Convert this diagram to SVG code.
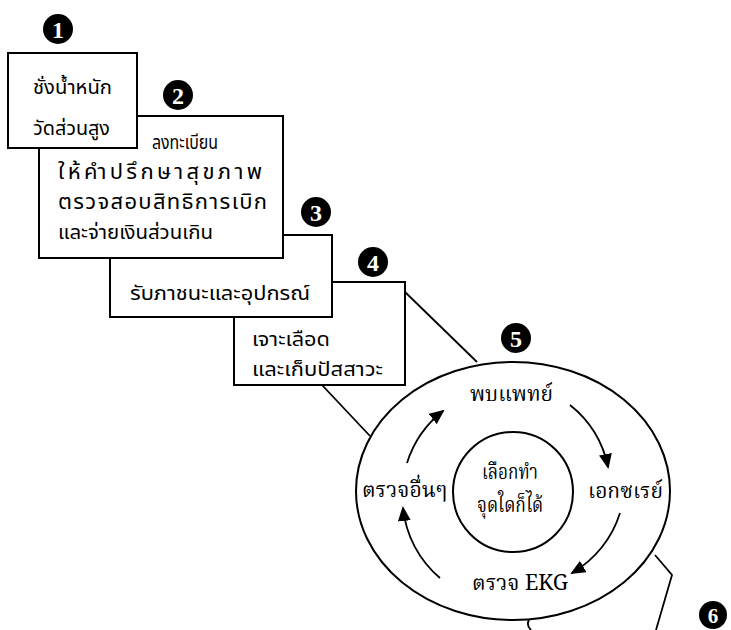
<svg xmlns="http://www.w3.org/2000/svg" width="731" height="630" viewBox="0 0 731 630">
<style>
.box{fill:#fff;stroke:#000;stroke-width:2}
.ring{fill:#fff;stroke:#000;stroke-width:2}
.ln{fill:none;stroke:#000;stroke-width:1.8}
.badge{fill:#000}
.num{fill:#fff;font-family:"Liberation Serif",serif;font-weight:bold;font-size:24px;text-anchor:middle}
.t{font-family:"Noto Sans Thai","Noto Sans","DejaVu Sans",sans-serif;font-size:19px;fill:#000}
.w{font-family:"Noto Sans Thai","Noto Sans","DejaVu Sans",sans-serif;font-size:22px;fill:#000}
.s{font-family:"Noto Serif Thai","Liberation Serif",serif;font-size:21px;fill:#000}
</style>
<defs>
<marker id="ah" markerUnits="userSpaceOnUse" markerWidth="15" markerHeight="13" refX="13" refY="6.5" orient="auto">
<path d="M0,0 L15,6.5 L0,13 z" fill="#000"/>
</marker>
</defs>
<rect width="731" height="630" fill="#fff"/>

<g id="connectors">
<path class="ln" d="M405 292 L477 362"/>
<path class="ln" d="M322 385 L370 436"/>
<path class="ln" d="M655 555 L672 575 L656 630"/>
<path class="ln" d="M529 620 Q526 625 531 630"/>
</g>

<g id="node4">
<rect class="box" x="234" y="282" width="171" height="103"/>
<text class="t" x="252" y="346" textLength="78" lengthAdjust="spacingAndGlyphs">เจาะเลือด</text>
<text class="t" x="252" y="376" textLength="131" lengthAdjust="spacingAndGlyphs">และเก็บปัสสาวะ</text>
</g>
<g id="node3">
<rect class="box" x="110" y="235" width="222" height="82"/>
<text class="t" x="130" y="300" textLength="180" lengthAdjust="spacingAndGlyphs">รับภาชนะและอุปกรณ์</text>
</g>
<g id="node2">
<rect class="box" x="39" y="116" width="244" height="142"/>
<text class="t" x="152" y="149" textLength="66" lengthAdjust="spacingAndGlyphs" style="font-size:20px">ลงทะเบียน</text>
<text class="w" x="58" y="179" textLength="204" lengthAdjust="spacing">ให้คำปรึกษาสุขภาพ</text>
<text class="w" x="58" y="209" textLength="209" lengthAdjust="spacing">ตรวจสอบสิทธิการเบิก</text>
<text class="t" x="58" y="239" textLength="155" lengthAdjust="spacingAndGlyphs">และจ่ายเงินส่วนเกิน</text>
</g>
<g id="node1">
<rect class="box" x="8" y="53" width="129" height="95"/>
<text class="t" x="33" y="94" textLength="79" lengthAdjust="spacingAndGlyphs">ชั่งน้ำหนัก</text>
<text class="t" x="33" y="135" textLength="77" lengthAdjust="spacingAndGlyphs">วัดส่วนสูง</text>
</g>

<g id="node5">
<ellipse class="ring" cx="513" cy="491" rx="157" ry="129"/>
<circle class="ring" cx="513" cy="492" r="60"/>
<text class="s" x="470" y="401" textLength="83" lengthAdjust="spacingAndGlyphs">พบแพทย์</text>
<text class="s" x="482" y="479" textLength="56" lengthAdjust="spacingAndGlyphs">เลือกทำ</text>
<text class="s" x="477" y="512" textLength="66" lengthAdjust="spacingAndGlyphs">จุดใดก็ได้</text>
<text class="s" x="362" y="497" textLength="85" lengthAdjust="spacingAndGlyphs">ตรวจอื่นๆ</text>
<text class="s" x="588" y="498" textLength="75" lengthAdjust="spacingAndGlyphs">เอกซเรย์</text>
<text class="s" x="472" y="590" textLength="96" lengthAdjust="spacingAndGlyphs">ตรวจ EKG</text>
<path class="ln" d="M407 463 A106 106 0 0 1 443 411" marker-end="url(#ah)"/>
<path class="ln" d="M570 405 A106 106 0 0 1 608 467" marker-end="url(#ah)"/>
<path class="ln" d="M620 513 A106 106 0 0 1 572 573" marker-end="url(#ah)"/>
<path class="ln" d="M440 578 A106 106 0 0 1 403 508" marker-end="url(#ah)"/>
</g>

<g id="badge1"><circle class="badge" cx="58" cy="29" r="15"/><text class="num" x="58" y="37.5">1</text></g>
<g id="badge2"><circle class="badge" cx="178" cy="95" r="15"/><text class="num" x="178" y="103.5">2</text></g>
<g id="badge3"><circle class="badge" cx="316" cy="212" r="15"/><text class="num" x="316" y="220.5">3</text></g>
<g id="badge4"><circle class="badge" cx="373" cy="262" r="15"/><text class="num" x="373" y="270.5">4</text></g>
<g id="badge5"><circle class="badge" cx="516" cy="338" r="15"/><text class="num" x="516" y="346.5">5</text></g>
<g id="badge6"><circle class="badge" cx="713" cy="615" r="14"/><text class="num" x="713" y="622.5" style="font-size:21px">6</text></g>
</svg>
